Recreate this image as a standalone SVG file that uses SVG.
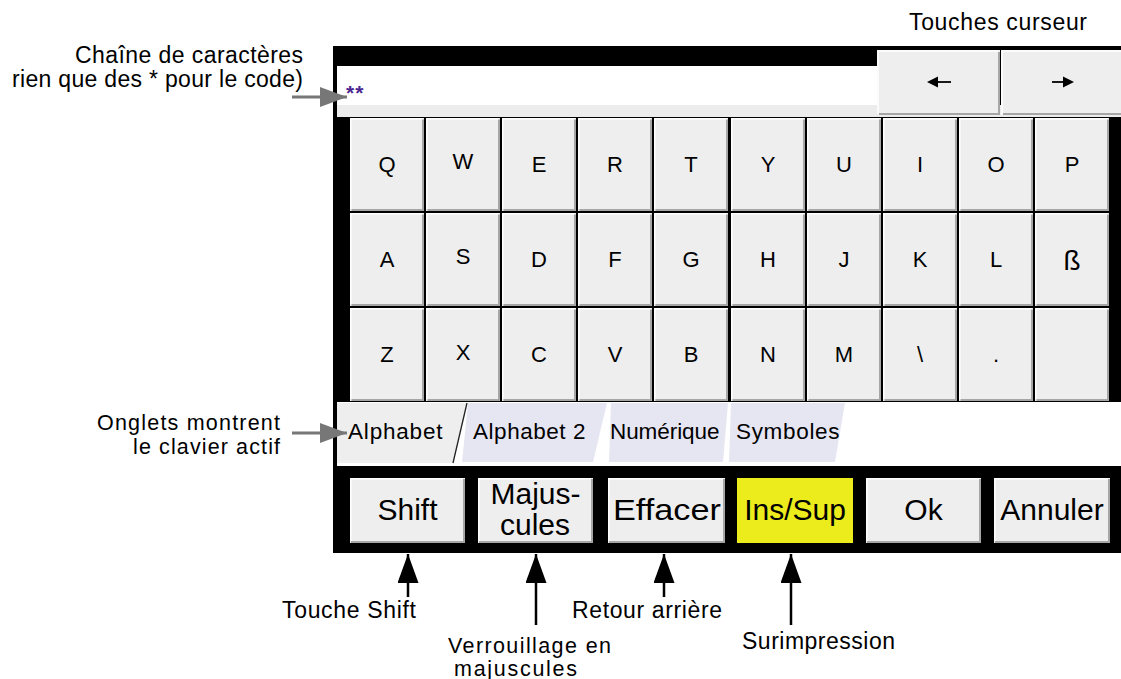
<svg xmlns="http://www.w3.org/2000/svg" xmlns:xlink="http://www.w3.org/1999/xlink" width="1121" height="679" viewBox="0 0 1121 679">
<style>
text{font-family:"Liberation Sans",Arial,sans-serif;fill:#000}
.lbl{font-size:23px}
.lbs{font-size:21.5px}
.key{font-size:22px;text-anchor:middle}
.tab{font-size:22.5px;letter-spacing:0.5px}
.btn{font-size:30px;text-anchor:middle}
.bf{fill:#eeeeee}
.hl{stroke:#ffffff;stroke-width:1.5;fill:none}
.sh{stroke:#a6a6a6;stroke-width:2;fill:none}
.ga{stroke:#777;stroke-width:3;fill:none}
.ba{stroke:#000;stroke-width:2.5;fill:none}
</style>
<defs>
<symbol id="key" viewBox="0 0 76 95" width="76" height="95">
<rect width="76" height="95" fill="#000"/>
<rect x="1" y="1" width="74" height="93" class="bf"/>
<path class="hl" d="M1.8,92 V1.8 H74"/>
<path class="sh" d="M2.5,93 H74 V2.5"/>
</symbol>
<marker id="ag" markerUnits="userSpaceOnUse" markerWidth="28" markerHeight="20" refX="27" refY="10" orient="auto"><path d="M0,0 L27,10 L0,20 z" fill="#777"/></marker>
<marker id="ab" markerUnits="userSpaceOnUse" markerWidth="30" markerHeight="21" refX="29" refY="10.5" orient="auto"><path d="M0,0 L29,10.5 L0,21 z" fill="#000"/></marker>
</defs>
<rect width="1121" height="679" fill="#fff"/>
<g id="frame">
<rect x="333" y="46" width="788" height="507" fill="#000"/>
<rect x="337" y="66" width="541" height="39" fill="#fff"/>
<rect x="337" y="105" width="784" height="12" fill="#ececec"/>
<rect x="337" y="402" width="784" height="64" fill="#fff"/>
</g>
<g id="input">
<text x="346" y="100" style="font-size:21px;fill:#4b2590;letter-spacing:1px;font-weight:bold">**</text>
</g>
<g id="cursor-left">
<rect x="877" y="50" width="123" height="65" class="bf"/>
<path class="hl" d="M878,114 V51 H999"/>
<path class="sh" d="M879,114 H999 V52"/>
<line x1="951" y1="82" x2="936" y2="82" stroke="#000" stroke-width="1.8"/>
<polygon points="927,82 938,76.5 938,87.5" fill="#000"/>
</g>
<g id="cursor-right">
<rect x="1001" y="50" width="120" height="65" class="bf"/>
<path class="hl" d="M1002,114 V51 H1121"/>
<path class="sh" d="M1003,114 H1121"/>
<line x1="1052" y1="82" x2="1066" y2="82" stroke="#000" stroke-width="1.8"/>
<polygon points="1074,82 1063,76.5 1063,87.5" fill="#000"/>
</g>
<g id="keys">
<g id="k-Q"><use xlink:href="#key" x="349" y="117"/><text class="key" x="387" y="172">Q</text></g>
<g id="k-W"><use xlink:href="#key" x="425" y="117"/><text class="key" x="463" y="169">W</text></g>
<g id="k-E"><use xlink:href="#key" x="501" y="117"/><text class="key" x="539" y="172">E</text></g>
<g id="k-R"><use xlink:href="#key" x="577" y="117"/><text class="key" x="615" y="172">R</text></g>
<g id="k-T"><use xlink:href="#key" x="653" y="117"/><text class="key" x="691" y="172">T</text></g>
<g id="k-Y"><use xlink:href="#key" x="730" y="117"/><text class="key" x="768" y="172">Y</text></g>
<g id="k-U"><use xlink:href="#key" x="806" y="117"/><text class="key" x="844" y="172">U</text></g>
<g id="k-I"><use xlink:href="#key" x="882" y="117"/><text class="key" x="920" y="172">I</text></g>
<g id="k-O"><use xlink:href="#key" x="958" y="117"/><text class="key" x="996" y="172">O</text></g>
<g id="k-P"><use xlink:href="#key" x="1034" y="117"/><text class="key" x="1072" y="172">P</text></g>
<g id="k-A"><use xlink:href="#key" x="349" y="212"/><text class="key" x="387" y="267">A</text></g>
<g id="k-S"><use xlink:href="#key" x="425" y="212"/><text class="key" x="463" y="264">S</text></g>
<g id="k-D"><use xlink:href="#key" x="501" y="212"/><text class="key" x="539" y="267">D</text></g>
<g id="k-F"><use xlink:href="#key" x="577" y="212"/><text class="key" x="615" y="267">F</text></g>
<g id="k-G"><use xlink:href="#key" x="653" y="212"/><text class="key" x="691" y="267">G</text></g>
<g id="k-H"><use xlink:href="#key" x="730" y="212"/><text class="key" x="768" y="267">H</text></g>
<g id="k-J"><use xlink:href="#key" x="806" y="212"/><text class="key" x="844" y="267">J</text></g>
<g id="k-K"><use xlink:href="#key" x="882" y="212"/><text class="key" x="920" y="267">K</text></g>
<g id="k-L"><use xlink:href="#key" x="958" y="212"/><text class="key" x="996" y="267">L</text></g>
<g id="k-ss"><use xlink:href="#key" x="1034" y="212"/><text class="key" x="1072" y="270" style="font-size:28px">ß</text></g>
<g id="k-Z"><use xlink:href="#key" x="349" y="307"/><text class="key" x="387" y="362">Z</text></g>
<g id="k-X"><use xlink:href="#key" x="425" y="307"/><text class="key" x="463" y="360">X</text></g>
<g id="k-C"><use xlink:href="#key" x="501" y="307"/><text class="key" x="539" y="362">C</text></g>
<g id="k-V"><use xlink:href="#key" x="577" y="307"/><text class="key" x="615" y="362">V</text></g>
<g id="k-B"><use xlink:href="#key" x="653" y="307"/><text class="key" x="691" y="362">B</text></g>
<g id="k-N"><use xlink:href="#key" x="730" y="307"/><text class="key" x="768" y="362">N</text></g>
<g id="k-M"><use xlink:href="#key" x="806" y="307"/><text class="key" x="844" y="362">M</text></g>
<g id="k-bs"><use xlink:href="#key" x="882" y="307"/><text class="key" x="920" y="362">\</text></g>
<g id="k-dot"><use xlink:href="#key" x="958" y="307"/><text class="key" x="996" y="362">.</text></g>
<g id="k-blank"><use xlink:href="#key" x="1034" y="307"/></g>
</g>
<g id="tabs">
<g id="tab-alphabet"><polygon points="337,403 467,403 453,463 337,463" fill="#eeeeee"/><line x1="467" y1="403" x2="453" y2="463" stroke="#222" stroke-width="1.3"/><text class="tab" x="348" y="439" textLength="95">Alphabet</text></g>
<g id="tab-alphabet2"><polygon points="468,403 607,403 593,462 462,462" fill="#e6e6f3"/><text class="tab" x="473" y="439" textLength="113">Alphabet 2</text></g>
<g id="tab-numerique"><polygon points="611,403 728,403 723,462 609,462" fill="#e6e6f3"/><text class="tab" x="610" y="439" textLength="110">Numérique</text></g>
<g id="tab-symboles"><polygon points="731,403 845,403 835,462 729,462" fill="#e6e6f3"/><text class="tab" x="736" y="439" textLength="104">Symboles</text></g>
</g>
<g id="buttons">
<g id="btn-shift"><rect x="350" y="478" width="115" height="65" class="bf"/><path class="sh" d="M351,542 H464 V479"/><path class="hl" d="M350.8,541 V478.8 H463"/><text class="btn" x="407.5" y="520">Shift</text></g>
<g id="btn-majuscules"><rect x="478" y="478" width="115" height="65" class="bf"/><path class="sh" d="M479,542 H592 V479"/><path class="hl" d="M478.8,541 V478.8 H591"/><text class="btn" x="535.5" y="504">Majus-</text><text class="btn" x="535" y="535">cules</text></g>
<g id="btn-effacer"><rect x="608" y="478" width="117" height="65" class="bf"/><path class="sh" d="M609,542 H724 V479"/><path class="hl" d="M608.8,541 V478.8 H723"/><text class="btn" x="667" y="520" textLength="108" lengthAdjust="spacingAndGlyphs">Effacer</text></g>
<g id="btn-inssup"><rect x="737" y="478" width="116" height="65" fill="#ecec1c"/><text class="btn" x="795" y="520">Ins/Sup</text></g>
<g id="btn-ok"><rect x="866" y="478" width="115" height="65" class="bf"/><path class="sh" d="M867,542 H980 V479"/><path class="hl" d="M866.8,541 V478.8 H979"/><text class="btn" x="923.5" y="520">Ok</text></g>
<g id="btn-annuler"><rect x="994" y="478" width="116" height="65" class="bf"/><path class="sh" d="M995,542 H1109 V479"/><path class="hl" d="M994.8,541 V478.8 H1108"/><text class="btn" x="1052" y="520">Annuler</text></g>
</g>
<g id="labels">
<text class="lbl" x="75" y="63" textLength="228">Chaîne de caractères</text>
<text class="lbl" x="12" y="87" textLength="291">rien que des * pour le code)</text>
<text class="lbl" x="909" y="30" textLength="178">Touches curseur</text>
<text class="lbs" x="97" y="430" textLength="183">Onglets montrent</text>
<text class="lbs" x="133" y="454" textLength="147">le clavier actif</text>
<text class="lbl" x="282" y="618" textLength="134">Touche Shift</text>
<text class="lbs" x="448" y="653" textLength="163">Verrouillage en</text>
<text class="lbs" x="454" y="676" textLength="123">majuscules</text>
<text class="lbl" x="572" y="618" textLength="150">Retour arrière</text>
<text class="lbl" x="742" y="649" textLength="153">Surimpression</text>
</g>
<g id="connectors">
<line class="ga" x1="292" y1="97" x2="347" y2="97" marker-end="url(#ag)"/>
<line class="ga" x1="292" y1="433" x2="347" y2="433" marker-end="url(#ag)"/>
<line class="ba" x1="408" y1="597" x2="408" y2="554" marker-end="url(#ab)"/>
<line class="ba" x1="536" y1="625" x2="536" y2="554" marker-end="url(#ab)"/>
<line class="ba" x1="664" y1="597" x2="664" y2="554" marker-end="url(#ab)"/>
<line class="ba" x1="791" y1="625" x2="791" y2="554" marker-end="url(#ab)"/>
</g>
</svg>
